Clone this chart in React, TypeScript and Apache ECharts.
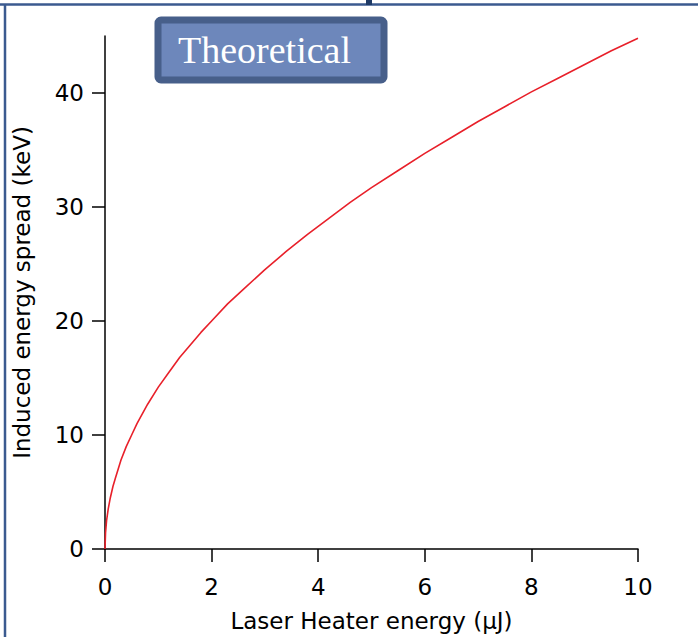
import React, { useEffect, useRef } from "react";
import * as echarts from "echarts";

const xValues = [0, 0.01, 0.03, 0.06, 0.1, 0.15, 0.2, 0.3, 0.4, 0.5, 0.6, 0.8, 1, 1.2, 1.4, 1.6, 1.8, 2, 2.3, 2.6, 3, 3.4, 3.8, 4.2, 4.6, 5, 5.5, 6, 6.5, 7, 7.5, 8, 8.5, 9, 9.5, 10];
const yValues = [0, 1.4, 2.5, 3.5, 4.5, 5.5, 6.3, 7.8, 9.0, 10.0, 11.0, 12.7, 14.2, 15.5, 16.8, 17.9, 19.0, 20.0, 21.5, 22.8, 24.5, 26.1, 27.6, 29.0, 30.4, 31.7, 33.2, 34.7, 36.1, 37.5, 38.8, 40.1, 41.3, 42.5, 43.7, 44.8];
const xTicks = [0, 2, 4, 6, 8, 10];
const yTicks = [0, 10, 20, 30, 40];
const xName = "Laser Heater energy (\u03bcJ)";
const yName = "Induced energy spread (keV)";
const boxLabel = "Theoretical";

export default function App() {
  const ref = useRef<HTMLDivElement>(null);
  useEffect(() => {
    if (!ref.current) return;
    const chart = echarts.init(ref.current, null, { renderer: "svg" });
    const font = "DejaVu Sans";
    chart.setOption({
      animation: false,
      backgroundColor: "#ffffff",
      grid: { left: 105, right: 60, top: 36, bottom: 83, containLabel: false },
      xAxis: {
        type: "value",
        min: 0,
        max: 10,
        interval: 2,
        name: xName,
        nameLocation: "middle",
        nameGap: 60,
        nameTextStyle: { fontFamily: font, fontSize: 23, color: "#000" },
        axisLine: { show: true, lineStyle: { color: "#000", width: 1.5 } },
        axisTick: { show: true, inside: false, length: 13, lineStyle: { color: "#000", width: 1.5 }, customValues: xTicks },
        axisLabel: { fontFamily: font, fontSize: 23, color: "#000", margin: 26, customValues: xTicks },
        splitLine: { show: false },
      },
      yAxis: {
        type: "value",
        min: 0,
        max: 45,
        interval: 10,
        name: yName,
        nameLocation: "middle",
        nameGap: 72,
        nameTextStyle: { fontFamily: font, fontSize: 23, color: "#000" },
        axisLine: { show: true, lineStyle: { color: "#000", width: 1.5 } },
        axisTick: { show: true, inside: false, length: 13, lineStyle: { color: "#000", width: 1.5 }, customValues: yTicks },
        axisLabel: { fontFamily: font, fontSize: 23, color: "#000", margin: 21, customValues: yTicks },
        splitLine: { show: false },
      },
      series: [
        {
          type: "line",
          data: xValues.map((x, i) => [x, yValues[i]]),
          showSymbol: false,
          smooth: false,
          lineStyle: { color: "#e8202a", width: 1.6 },
          z: 5,
        },
      ],
      graphic: [
        { type: "line", shape: { x1: 0, y1: 4.5, x2: 698, y2: 4.5 }, style: { stroke: "#3b5a8f", lineWidth: 2.5 } },
        { type: "line", shape: { x1: 5, y1: 4, x2: 5, y2: 637 }, style: { stroke: "#3b5a8f", lineWidth: 2.5 } },
        { type: "rect", shape: { x: 366, y: 0, width: 6, height: 5 }, style: { fill: "#1f3a66" } },
        {
          type: "rect",
          shape: { x: 158, y: 20, width: 226, height: 60, r: 3 },
          style: { fill: "#6d87bb", stroke: "#475f8a", lineWidth: 7 },
          z: 10,
        },
        {
          type: "text",
          x: 178,
          y: 50,
          style: {
            text: boxLabel,
            fill: "#ffffff",
            font: "38px 'Liberation Serif'",
            textVerticalAlign: "middle",
          },
          z: 11,
        },
      ],
    });
    return () => chart.dispose();
  }, []);
  return <div ref={ref} style={{ position: "fixed", left: 0, top: 0, width: 698, height: 637 }} />;
}
